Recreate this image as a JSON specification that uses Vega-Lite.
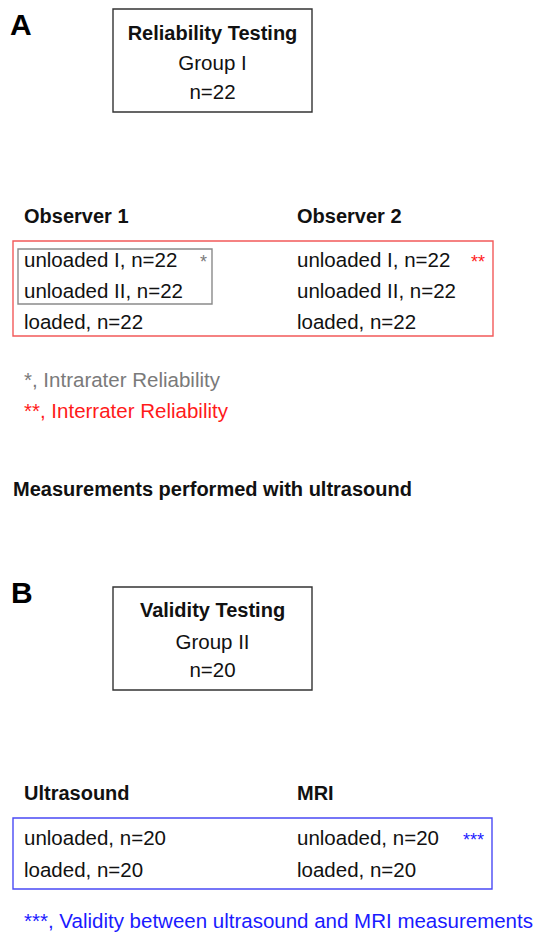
{
  "$schema": "https://vega.github.io/schema/vega-lite/v6.json",
  "width": 538,
  "height": 937,
  "autosize": {"type": "fit", "contains": "padding"},
  "padding": 0,
  "background": "white",
  "config": {"view": {"stroke": null}},
  "datasets": {
    "boxes": [
      {"x": 113, "x2": 312, "y": 9, "y2": 112, "tone": "black"},
      {"x": 13, "x2": 493, "y": 241, "y2": 336, "tone": "red"},
      {"x": 18, "x2": 212, "y": 249, "y2": 304, "tone": "gray"},
      {"x": 113, "x2": 312, "y": 587, "y2": 690, "tone": "black"},
      {"x": 13, "x2": 492, "y": 818, "y2": 889, "tone": "blue"}
    ],
    "letters": [
      {"label": "A", "x": 10, "y": 35},
      {"label": "B", "x": 11, "y": 603}
    ],
    "titles": [
      {"label": "Reliability Testing", "x": 212.5, "y": 40},
      {"label": "Validity Testing", "x": 212.5, "y": 617}
    ],
    "subtitles": [
      {"label": "Group I", "x": 212.5, "y": 70},
      {"label": "n=22", "x": 212.5, "y": 99},
      {"label": "Group II", "x": 212.5, "y": 649},
      {"label": "n=20", "x": 212.5, "y": 677}
    ],
    "headings": [
      {"label": "Observer 1", "x": 24, "y": 223},
      {"label": "Observer 2", "x": 297, "y": 223},
      {"label": "Measurements performed with ultrasound", "x": 13, "y": 496},
      {"label": "Ultrasound", "x": 24, "y": 800},
      {"label": "MRI", "x": 297, "y": 800}
    ],
    "items": [
      {"label": "unloaded I, n=22", "x": 24, "y": 267, "tone": "black"},
      {"label": "unloaded II, n=22", "x": 24, "y": 298, "tone": "black"},
      {"label": "loaded, n=22", "x": 24, "y": 329, "tone": "black"},
      {"label": "unloaded I, n=22", "x": 297, "y": 267, "tone": "black"},
      {"label": "unloaded II, n=22", "x": 297, "y": 298, "tone": "black"},
      {"label": "loaded, n=22", "x": 297, "y": 329, "tone": "black"},
      {"label": "*, Intrarater Reliability", "x": 24, "y": 387, "tone": "gray"},
      {"label": "**, Interrater Reliability", "x": 24, "y": 418, "tone": "red"},
      {"label": "unloaded, n=20", "x": 24, "y": 845, "tone": "black"},
      {"label": "loaded, n=20", "x": 24, "y": 877, "tone": "black"},
      {"label": "unloaded, n=20", "x": 297, "y": 845, "tone": "black"},
      {"label": "loaded, n=20", "x": 297, "y": 877, "tone": "black"},
      {"label": "***, Validity between ultrasound and MRI measurements", "x": 24, "y": 928, "tone": "blue"}
    ],
    "stars": [
      {"label": "*", "x": 200, "y": 268, "tone": "gray"},
      {"label": "**", "x": 471, "y": 268, "tone": "red"},
      {"label": "***", "x": 463, "y": 846, "tone": "blue"}
    ]
  },
  "layer": [
    {
      "data": {"name": "boxes"},
      "mark": {"type": "rect", "fillOpacity": 0, "strokeWidth": 1.4},
      "encoding": {
        "x": {"field": "x", "type": "quantitative", "scale": {"domain": [0, 538]}, "axis": null},
        "x2": {"field": "x2"},
        "y": {"field": "y", "type": "quantitative", "scale": {"domain": [0, 937], "reverse": true}, "axis": null},
        "y2": {"field": "y2"},
        "stroke": {"field": "tone", "type": "nominal", "legend": null,
          "scale": {"domain": ["black", "gray", "red", "blue"], "range": ["#333333", "#8a8a8a", "#f25a5a", "#4a4af5"]}}
      }
    },
    {
      "data": {"name": "letters"},
      "mark": {"type": "text", "align": "left", "baseline": "alphabetic", "font": "Liberation Sans", "fontWeight": "bold", "fontSize": 30, "color": "black"},
      "encoding": {
        "x": {"field": "x", "type": "quantitative", "scale": {"domain": [0, 538]}, "axis": null},
        "y": {"field": "y", "type": "quantitative", "scale": {"domain": [0, 937], "reverse": true}, "axis": null},
        "text": {"field": "label"}
      }
    },
    {
      "data": {"name": "titles"},
      "mark": {"type": "text", "align": "center", "baseline": "alphabetic", "font": "Liberation Sans", "fontWeight": "bold", "fontSize": 20, "color": "#111111"},
      "encoding": {
        "x": {"field": "x", "type": "quantitative", "scale": {"domain": [0, 538]}, "axis": null},
        "y": {"field": "y", "type": "quantitative", "scale": {"domain": [0, 937], "reverse": true}, "axis": null},
        "text": {"field": "label"}
      }
    },
    {
      "data": {"name": "subtitles"},
      "mark": {"type": "text", "align": "center", "baseline": "alphabetic", "font": "Liberation Sans", "fontSize": 20.5, "color": "#111111"},
      "encoding": {
        "x": {"field": "x", "type": "quantitative", "scale": {"domain": [0, 538]}, "axis": null},
        "y": {"field": "y", "type": "quantitative", "scale": {"domain": [0, 937], "reverse": true}, "axis": null},
        "text": {"field": "label"}
      }
    },
    {
      "data": {"name": "headings"},
      "mark": {"type": "text", "align": "left", "baseline": "alphabetic", "font": "Liberation Sans", "fontWeight": "bold", "fontSize": 20, "color": "#111111"},
      "encoding": {
        "x": {"field": "x", "type": "quantitative", "scale": {"domain": [0, 538]}, "axis": null},
        "y": {"field": "y", "type": "quantitative", "scale": {"domain": [0, 937], "reverse": true}, "axis": null},
        "text": {"field": "label"}
      }
    },
    {
      "data": {"name": "items"},
      "mark": {"type": "text", "align": "left", "baseline": "alphabetic", "font": "Liberation Sans", "fontSize": 20.5},
      "encoding": {
        "x": {"field": "x", "type": "quantitative", "scale": {"domain": [0, 538]}, "axis": null},
        "y": {"field": "y", "type": "quantitative", "scale": {"domain": [0, 937], "reverse": true}, "axis": null},
        "text": {"field": "label"},
        "color": {"field": "tone", "type": "nominal", "legend": null,
          "scale": {"domain": ["black", "gray", "red", "blue"], "range": ["#111111", "#7a7a7a", "#ff1a1a", "#1a1aff"]}}
      }
    },
    {
      "data": {"name": "stars"},
      "mark": {"type": "text", "align": "left", "baseline": "alphabetic", "font": "Liberation Sans", "fontSize": 18},
      "encoding": {
        "x": {"field": "x", "type": "quantitative", "scale": {"domain": [0, 538]}, "axis": null},
        "y": {"field": "y", "type": "quantitative", "scale": {"domain": [0, 937], "reverse": true}, "axis": null},
        "text": {"field": "label"},
        "color": {"field": "tone", "type": "nominal", "legend": null,
          "scale": {"domain": ["black", "gray", "red", "blue"], "range": ["#111111", "#7a7a7a", "#ff1a1a", "#1a1aff"]}}
      }
    }
  ]
}
